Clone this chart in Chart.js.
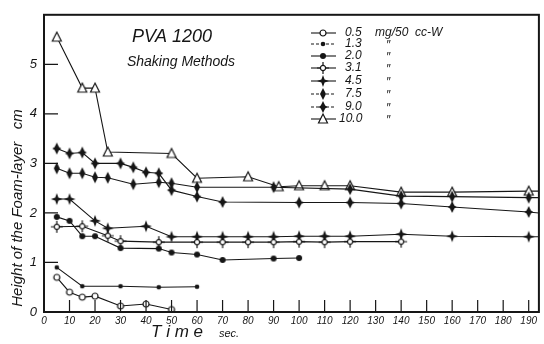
<!DOCTYPE html>
<html>
<head>
<meta charset="utf-8">
<script src="https://cdn.jsdelivr.net/npm/chart.js@4.4.0/dist/chart.umd.min.js"></script>
<style>
  html, body { margin: 0; padding: 0; background: #fff; }
  #wrap { position: relative; width: 544px; height: 344px; }
</style>
</head>
<body>
<div id="wrap"><canvas id="foam" width="544" height="344"></canvas></div>
<script>
// concentrations (mg/50 cc-W)
var concLabels = ["0.5", "1.3", "2.0", "3.1", "4.5", "7.5", "9.0", "10.0"];

// time (sec) / foam height (cm)
var t05 = [5, 10, 15, 20, 30, 40, 50];
var h05 = [0.7, 0.4, 0.3, 0.32, 0.12, 0.16, 0.05];

var t13 = [5, 15, 30, 45, 60];
var h13 = [0.9, 0.52, 0.52, 0.5, 0.51];

var t20 = [5, 10, 15, 20, 30, 45, 50, 60, 70, 90, 100];
var h20 = [1.92, 1.84, 1.53, 1.53, 1.29, 1.28, 1.2, 1.16, 1.05, 1.08, 1.09];

var t31 = [5, 15, 25, 30, 45, 60, 70, 80, 90, 100, 110, 120, 140];
var h31 = [1.72, 1.73, 1.54, 1.43, 1.41, 1.41, 1.41, 1.41, 1.41, 1.42, 1.41, 1.42, 1.42];

var t45 = [5, 10, 20, 25, 40, 50, 60, 70, 80, 90, 100, 110, 120, 140, 160, 190, 194];
var h45 = [2.28, 2.28, 1.84, 1.69, 1.73, 1.52, 1.52, 1.52, 1.52, 1.52, 1.53, 1.53, 1.53, 1.57, 1.53, 1.52, 1.52];

var t75 = [5, 10, 15, 20, 25, 35, 45, 50, 60, 90, 120, 140, 160, 190, 194];
var h75 = [2.9, 2.8, 2.8, 2.72, 2.71, 2.58, 2.62, 2.6, 2.52, 2.52, 2.48, 2.34, 2.33, 2.31, 2.31];

var t90 = [5, 10, 15, 20, 30, 35, 40, 45, 50, 60, 70, 100, 120, 140, 160, 190, 194];
var h90 = [3.3, 3.2, 3.22, 3.0, 3.0, 2.92, 2.82, 2.8, 2.46, 2.33, 2.22, 2.21, 2.21, 2.19, 2.12, 2.02, 2.0];

var t100 = [5, 15, 20, 25, 50, 60, 80, 92, 100, 110, 120, 140, 160, 190, 194];
var h100 = [5.55, 4.52, 4.52, 3.23, 3.2, 2.7, 2.73, 2.53, 2.55, 2.55, 2.55, 2.42, 2.42, 2.44, 2.44];

var xTicks = [0, 10, 20, 30, 40, 50, 60, 70, 80, 90, 100, 110, 120, 130, 140, 150, 160, 170, 180, 190];
var yTicks = [0, 1, 2, 3, 4, 5];

var ink = "#161616";
var hand = "'Liberation Sans', 'DejaVu Sans', sans-serif";

// little canvases used as point markers
function mk(draw) {
  var c = document.createElement("canvas");
  c.width = 16; c.height = 16;
  var g = c.getContext("2d");
  g.translate(8, 8);
  g.strokeStyle = ink; g.fillStyle = ink; g.lineWidth = 1.2;
  draw(g);
  return c;
}
function poly(g, pts) {
  g.beginPath();
  g.moveTo(pts[0], pts[1]);
  for (var i = 2; i < pts.length; i += 2) g.lineTo(pts[i], pts[i + 1]);
  g.closePath();
}
var markers = [
  mk(function (g) { g.beginPath(); g.arc(0, 0, 3, 0, 7); g.fillStyle = "#fff"; g.fill(); g.stroke(); }),
  mk(function (g) { g.beginPath(); g.arc(0, 0, 2.3, 0, 7); g.fill(); }),
  mk(function (g) { g.beginPath(); g.arc(0, 0, 3, 0, 7); g.fill(); }),
  mk(function (g) {
    g.beginPath(); g.moveTo(0, -6); g.lineTo(0, 6); g.moveTo(-6, 0); g.lineTo(6, 0); g.stroke();
    g.beginPath(); g.arc(0, 0, 2.6, 0, 7); g.fillStyle = "#fff"; g.fill(); g.stroke();
  }),
  mk(function (g) { poly(g, [0, -6, 1.6, -1.6, 6, 0, 1.6, 1.6, 0, 6, -1.6, 1.6, -6, 0, -1.6, -1.6]); g.fill(); }),
  mk(function (g) { poly(g, [0, -6, 3, 0, 0, 6, -3, 0]); g.fill(); }),
  mk(function (g) { poly(g, [0, -6, 2.2, -1.5, 4.5, 0, 2.2, 1.5, 0, 6, -2.2, 1.5, -4.5, 0, -2.2, -1.5]); g.fill(); }),
  mk(function (g) { poly(g, [0, -5, 4.5, 4, -4.5, 4]); g.fillStyle = "#fff"; g.fill(); g.stroke(); })
];
var legendDash = [[], [3, 2], [], [], [], [3, 2], [3, 2], []];

function pts(t, h) {
  return t.map(function (x, i) { return { x: x, y: h[i] }; });
}
var series = [[t05, h05], [t13, h13], [t20, h20], [t31, h31], [t45, h45], [t75, h75], [t90, h90], [t100, h100]];

var datasets = series.map(function (s, i) {
  return {
    label: concLabels[i],
    data: pts(s[0], s[1]),
    borderColor: ink,
    borderWidth: 1.1,
    pointStyle: markers[i],
    pointRadius: function (c) { return c.raw && c.raw.x > 190 ? 0 : 4; },
    tension: 0
  };
});

// frame, inward ticks, titles and hand legend
var paperPlugin = {
  id: "paper",
  afterDraw: function (chart) {
    var ctx = chart.ctx, a = chart.chartArea;
    var xs = chart.scales.x, ys = chart.scales.y;
    ctx.save();
    ctx.strokeStyle = ink;
    ctx.lineWidth = 2;
    ctx.strokeRect(a.left, a.top, a.right - a.left, a.bottom - a.top);
    ctx.lineWidth = 1.2;
    ctx.beginPath();
    xTicks.forEach(function (v) {
      if (v === 0) return;
      var px = xs.getPixelForValue(v);
      ctx.moveTo(px, a.bottom); ctx.lineTo(px, a.bottom - 12);
    });
    yTicks.forEach(function (v) {
      if (v === 0) return;
      var py = ys.getPixelForValue(v);
      ctx.moveTo(a.left, py); ctx.lineTo(a.left + 14, py);
    });
    ctx.stroke();

    ctx.fillStyle = ink;
    ctx.textAlign = "center";
    ctx.textBaseline = "middle";
    ctx.font = "italic 18px " + hand;
    ctx.fillText("PVA 1200", 172, 37);
    ctx.font = "italic 14px " + hand;
    ctx.fillText("Shaking Methods", 181, 62);

    // axis titles
    ctx.save();
    ctx.translate(18, 208);
    ctx.rotate(-Math.PI / 2);
    ctx.font = "italic 15px " + hand;
    ctx.fillText("Height of the Foam-layer   cm", 0, 0);
    ctx.restore();
    ctx.font = "italic 17px " + hand;
    ctx.fillText("T i m e", 177, 332);
    ctx.font = "italic 11px " + hand;
    ctx.fillText("sec.", 229, 334);

    // legend
    var rows = [33, 44, 56, 68, 81, 94, 107, 119];
    ctx.textAlign = "left";
    ctx.font = "italic 12px " + hand;
    concLabels.forEach(function (lab, i) {
      var y = rows[i];
      ctx.setLineDash(legendDash[i]);
      ctx.lineWidth = 1.1;
      ctx.beginPath(); ctx.moveTo(311, y); ctx.lineTo(336, y); ctx.stroke();
      ctx.setLineDash([]);
      ctx.drawImage(markers[i], 323 - 8, y - 8);
      ctx.fillText(lab, i === 7 ? 339 : 345, y);
      ctx.fillText(i === 0 ? "mg/50  cc-W" : "\u2033", i === 0 ? 375 : 386, y + (i === 0 ? 0 : 2));
    });
    ctx.restore();
  }
};

var chart = new Chart(document.getElementById("foam").getContext("2d"), {
  type: "line",
  data: { datasets: datasets },
  options: {
    responsive: false,
    animation: false,
    layout: { padding: { left: 0, top: 5, right: 5, bottom: 0 } },
    plugins: { legend: { display: false }, tooltip: { enabled: false } },
    scales: {
      x: {
        type: "linear",
        min: 0,
        max: 194,
        afterBuildTicks: function (s) { s.ticks = xTicks.map(function (v) { return { value: v }; }); },
        afterFit: function (s) { s.height = 32; },
        grid: { display: false, drawTicks: false },
        border: { display: false },
        ticks: { padding: 3, color: ink, maxRotation: 0, autoSkip: false, font: { family: hand, style: "italic", size: 10 } }
      },
      y: {
        min: 0,
        max: 6,
        afterBuildTicks: function (s) { s.ticks = yTicks.map(function (v) { return { value: v }; }); },
        afterFit: function (s) { s.width = 44; },
        grid: { display: false, drawTicks: false },
        border: { display: false },
        ticks: { padding: 7, color: ink, font: { family: hand, style: "italic", size: 13 } }
      }
    }
  },
  plugins: [paperPlugin]
});
</script>
</body>
</html>
